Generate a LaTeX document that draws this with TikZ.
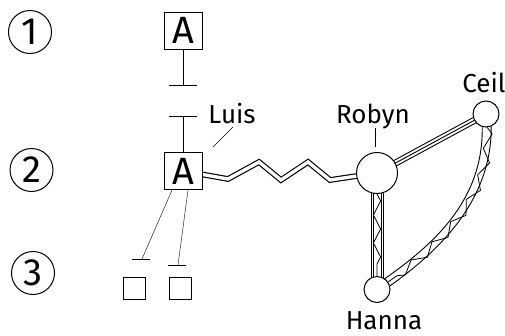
\documentclass[tikz,border=0pt]{standalone}
\usepackage{fontspec}
\setmainfont{Fira Sans}
\usetikzlibrary{arrows.meta,decorations.pathmorphing,backgrounds}
\begin{document}
\begin{tikzpicture}[x=1pt,y=-1pt,line width=1pt,
  every node/.style={inner sep=0pt},
  stage/.style={circle,draw,minimum size=43pt,font=\fontsize{38}{38}\selectfont},
  actor/.style={draw,fill=white,minimum width=38pt,minimum height=37pt,font=\fontsize{38}{38}\selectfont},
  person/.style={circle,draw,fill=white},
  lbl/.style={anchor=base,font=\fontsize{26}{26}\selectfont},
  slot/.style={draw,minimum size=22pt},
  tee/.style={-{Bar[width=28pt]}},
  twin/.style={double,line width=1.15pt,double distance=3.4pt},
  rail/.style={line width=0.9pt},
  truss/.style={line width=0.8pt,decorate,decoration={zigzag,amplitude=#1,segment length=28pt}}]
\useasboundingbox (0,0) rectangle (505,335);

% stage numbers
\node[stage] (s1) at (30,32) {1};
\node[stage] (s2) at (31.5,170) {2};
\node[stage] (s3) at (33,273) {3};

% actors and slots
\node[actor] (a1) at (183,30.5) {A};
\node[actor] (a2) at (183,171) {A};
\node[slot] (q1) at (134.5,288.5) {};
\node[slot] (q2) at (180.5,288.5) {};

% people
\node[person,minimum size=41pt] (robyn) at (377,173) {};
\node[person,minimum size=26pt] (ceil) at (486,114) {};
\node[person,minimum size=26pt] (hanna) at (377,289.5) {};

% names
\node[lbl] (luis) at (232,123) {Luis};
\node[lbl] (rlbl) at (373,123) {Robyn};
\node[lbl] (clbl) at (484,92) {Ceil};
\node[lbl] (hlbl) at (384,329) {Hanna};

% helper points
\coordinate (t1) at (183,85);
\coordinate (t2) at (183,116);
\coordinate (b1) at (142,259);
\coordinate (b2) at (178,265);
\coordinate (lp1) at (213,147);
\coordinate (lp2) at (233,127);
\coordinate (rp1) at (375,128);
\coordinate (rp2) at (375,147);

\begin{scope}[on background layer]
  % tees between the two A boxes
  \draw[tee] (a1) -- (t1);
  \draw[tee] (a2) -- (t2);
  % branches to the slots
  \draw ([xshift=-11pt]a2.south) -- (b1);
  \draw ([xshift=5pt]a2.south) -- (b2);
  \draw ([xshift=-10pt]b1) -- ([xshift=7.5pt]b1);
  \draw ([xshift=-10pt]b2) -- ([xshift=7.5pt]b2);
  % pointers
  \draw (lp1) -- (lp2);
  \draw (rp1) -- (rp2);
  % zigzag link A -- Robyn
  \draw[twin] (a2.center) -- (228,179) -- (259,162) -- (281,180) -- (308,162) -- (330,180) -- (robyn.center);
  % triple link Robyn -- Ceil
  \foreach \s in {-3,0,3}
    \draw[rail] ([shift={(0.476*\s,0.879*\s)}]robyn.center) -- ([shift={(0.476*\s,0.879*\s)}]ceil.center);
  % truss Robyn -- Hanna: paired rails on each side
  \foreach \dx in {-5.8,-4.1,4.3,6.1}
    \draw[rail,line width=0.8pt] ([xshift=\dx pt]robyn.center) -- ([xshift=\dx pt]hanna.center);
  \draw[truss=3.6pt] (robyn) -- (hanna);
  % curved truss Ceil -- Hanna: two rails and a zigzag web
  \draw[rail] ([shift={(4.5,-0.4)}]ceil.center) .. controls (498.5,199.6) and (434.5,255.7) .. ([shift={(2.5,3.7)}]hanna.center);
  \draw[rail] ([shift={(-4.5,0.4)}]ceil.center) .. controls (489.5,200.4) and (429.5,248.3) .. ([shift={(-2.5,-3.7)}]hanna.center);
  \draw[truss=4.2pt] (ceil) .. controls (494,200) and (432,252) .. (hanna);
\end{scope}
\end{tikzpicture}
\end{document}
